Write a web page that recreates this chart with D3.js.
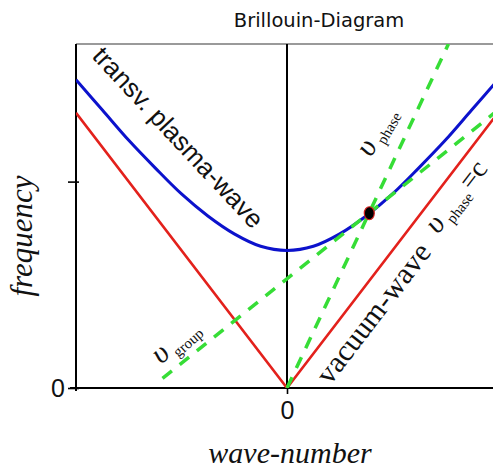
<!DOCTYPE html>
<html>
<head>
<meta charset="utf-8">
<script src="https://cdn.jsdelivr.net/npm/d3@7"></script>
<style>
  html, body { margin: 0; padding: 0; background: #fff; }
  svg { display: block; }
</style>
</head>
<body>
<svg id="chart" width="493" height="471"></svg>
<script>
// Brillouin diagram: dispersion of a transverse plasma wave vs. the vacuum light line
const titleText = "Brillouin-Diagram";
const xLabel = "wave-number";
const yLabel = "frequency";

// transverse plasma-wave branch (wave-number, frequency)
const plasmaK    = [-2, -1.75, -1.5, -1.25, -1, -0.75, -0.5, -0.25, 0, 0.25, 0.5, 0.75, 1, 1.25, 1.5, 1.75, 2];
const plasmaFreq = [2.24, 2.02, 1.80, 1.60, 1.41, 1.25, 1.12, 1.03, 1.00, 1.03, 1.12, 1.25, 1.41, 1.60, 1.80, 2.02, 2.24];

// vacuum wave (light line)
const vacuumK    = [-2, 0, 2];
const vacuumFreq = [2, 0, 2];

// phase-velocity line through the origin and the marked point
const phaseK    = [0, 1.53];
const phaseFreq = [0, 2.5];

// group-velocity line, tangent to the plasma branch at the marked point
const groupK    = [-1.18, 2];
const groupFreq = [0.07, 2.02];

// marked operating point
const pointK = [0.78];
const pointFreq = [1.27];

// axis ticks
const xTicks = [0];
const xTickLabels = ["0"];
const yTicks = [0, 1.5];
const yTickLabels = ["0", ""];

const svg = d3.select("#chart");
const pLeft = 76, pRight = 498, pTop = 44, pBottom = 388;

const x = d3.scaleLinear().domain([-2, 2]).range([pLeft, pRight]);
const y = d3.scaleLinear().domain([0, 2.5]).range([pBottom, pTop]);

svg.append("defs").append("clipPath").attr("id", "plotClip")
  .append("rect").attr("x", pLeft).attr("y", pTop)
  .attr("width", pRight - pLeft).attr("height", pBottom - pTop);

// frame: grey top border
svg.append("line")
  .attr("x1", pLeft).attr("x2", 493).attr("y1", pTop).attr("y2", pTop)
  .attr("stroke", "#9a9a9a").attr("stroke-width", 2);

// vertical line at k = 0
svg.append("line")
  .attr("x1", x(0)).attr("x2", x(0)).attr("y1", pTop).attr("y2", pBottom)
  .attr("stroke", "#000").attr("stroke-width", 2);

// axes
const yAxis = d3.axisLeft(y).tickValues(yTicks)
  .tickFormat((d, i) => yTickLabels[i]).tickSize(6).tickSizeOuter(0);
const yAxisG = svg.append("g").attr("transform", `translate(${pLeft},0)`).call(yAxis);
yAxisG.select(".domain").attr("stroke-width", 2).attr("d", `M0,${pTop}V${pBottom + 3}`);
yAxisG.selectAll(".tick line").attr("stroke-width", 1.6).attr("x2", -8).attr("x1", 3);
yAxisG.selectAll(".tick text").attr("font-family", "Liberation Sans, Arial, sans-serif")
  .attr("font-size", 25).attr("fill", "#111").attr("x", -11).attr("dy", "0.34em");

const xAxis = d3.axisBottom(x).tickValues(xTicks)
  .tickFormat((d, i) => xTickLabels[i]).tickSize(6).tickSizeOuter(0);
const xAxisG = svg.append("g").attr("transform", `translate(0,${pBottom})`).call(xAxis);
xAxisG.select(".domain").attr("stroke-width", 2).attr("d", `M${pLeft - 6},0H493`);
xAxisG.selectAll(".tick line").attr("stroke-width", 1.6);
xAxisG.selectAll(".tick text").attr("font-family", "Liberation Sans, Arial, sans-serif")
  .attr("font-size", 25).attr("fill", "#111").attr("y", 13).attr("dy", "0.71em");

const plot = svg.append("g").attr("clip-path", "url(#plotClip)");
const toPts = (ks, fs) => ks.map((k, i) => [k, fs[i]]);
const line = d3.line().x(d => x(d[0])).y(d => y(d[1]));
const smooth = d3.line().x(d => x(d[0])).y(d => y(d[1])).curve(d3.curveCatmullRom.alpha(0.5));

// vacuum wave
plot.append("path").attr("d", line(toPts(vacuumK, vacuumFreq)))
  .attr("fill", "none").attr("stroke", "#e3211c").attr("stroke-width", 2.6);

// plasma wave
plot.append("path").attr("d", smooth(toPts(plasmaK, plasmaFreq)))
  .attr("fill", "none").attr("stroke", "#0c12cc").attr("stroke-width", 3);

// phase and group velocity lines
[[phaseK, phaseFreq], [groupK, groupFreq]].forEach(([ks, fs]) => {
  plot.append("path").attr("d", line(toPts(ks, fs)))
    .attr("fill", "none").attr("stroke", "#36dd36").attr("stroke-width", 3.5)
    .attr("stroke-dasharray", "12,10");
});

// marked point
plot.selectAll("ellipse.pt").data(toPts(pointK, pointFreq)).enter().append("ellipse")
  .attr("class", "pt")
  .attr("cx", d => x(d[0])).attr("cy", d => y(d[1]))
  .attr("rx", 5).attr("ry", 6.5)
  .attr("fill", "#000").attr("stroke", "#d42020").attr("stroke-width", 1.2);

// title
svg.append("text").attr("x", 319).attr("y", 27).attr("text-anchor", "middle")
  .attr("font-family", "DejaVu Sans, sans-serif").attr("font-size", 19.5).attr("fill", "#111")
  .text(titleText);

// axis titles
svg.append("text").attr("x", 290).attr("y", 463).attr("text-anchor", "middle")
  .attr("font-family", "Liberation Serif, serif").attr("font-style", "italic")
  .attr("font-size", 30).attr("fill", "#111").text(xLabel);
svg.append("text").attr("transform", "translate(32,236) rotate(-90)").attr("text-anchor", "middle")
  .attr("font-family", "Liberation Serif, serif").attr("font-style", "italic")
  .attr("font-size", 31).attr("fill", "#111").text(yLabel);

// curve annotations
svg.append("text").attr("transform", "translate(91,57) rotate(47)")
  .attr("font-family", "Liberation Sans, Arial, sans-serif").attr("font-size", 26)
  .attr("fill", "#111").text("transv. plasma-wave");

svg.append("text").attr("transform", "translate(330,386) rotate(-52.5)")
  .attr("font-family", "Liberation Serif, serif").attr("font-size", 30)
  .attr("fill", "#111").text("vacuum-wave");

// velocity labels: υ with a small subscript
function velocityLabel(tx, ty, angle, sub, tail) {
  const t = svg.append("text").attr("transform", `translate(${tx},${ty}) rotate(${angle})`)
    .attr("font-family", "Liberation Serif, serif").attr("fill", "#111");
  t.append("tspan").attr("font-size", 30).attr("font-style", "italic").text("υ");
  t.append("tspan").attr("font-size", 15).attr("dx", 4).attr("dy", 6).text(sub);
  if (tail) t.append("tspan").attr("font-size", 28).attr("dx", 3).attr("dy", -6).text(tail);
}
velocityLabel(438, 235, -52.5, "phase", "=c");
velocityLabel(371, 158, -60, "phase");
velocityLabel(161, 365, -41, "group");
</script>
</body>
</html>
